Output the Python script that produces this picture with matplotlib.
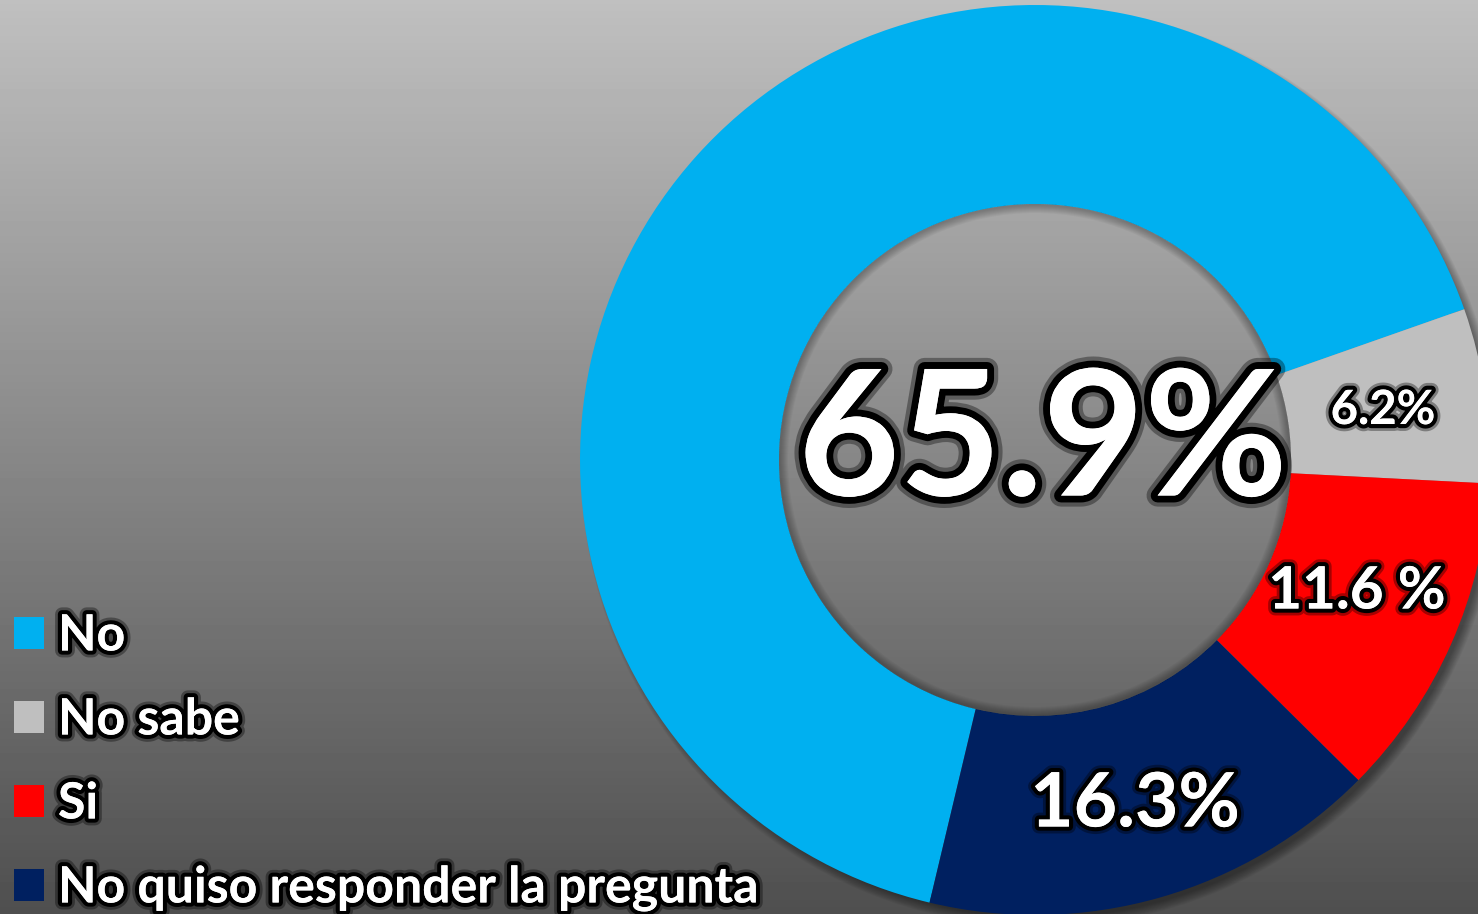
import numpy as np
import matplotlib
matplotlib.use("Agg")
from matplotlib import pyplot as plt
from matplotlib import patheffects as pe
from matplotlib.patches import Wedge

# data
labels = ["No", "No sabe", "Si", "No quiso responder la pregunta"]
values = [65.9, 6.2, 11.6, 16.3]
value_texts = ["65.9%", "6.2%", "11.6 %", "16.3%"]
colors = ["#00B0F0", "#BFBFBF", "#FF0000", "#002060"]

W, H = 1478, 914
plt.rcParams["font.family"] = ["Lato", "DejaVu Sans"]

fig = plt.figure(figsize=(W / 100, H / 100), dpi=100)
ax = fig.add_axes([0, 0, 1, 1])

# grey vertical gradient background
grad = np.linspace(0.31, 0.75, 256).reshape(-1, 1)
ax.imshow(grad, extent=[0, W, 0, H], origin="lower", cmap="gray", vmin=0, vmax=1,
          aspect="auto", zorder=0)

cx, cy = 1035, 454
r_out, r_in = 455, 256

# soft outer shadow, lower right only
for i in range(10):
    ax.add_patch(Wedge((cx + 6, cy - 7), r_out + 5 - i, 0, 360, width=14,
                       color="black", alpha=0.045, lw=0, zorder=1))

wedges, _ = ax.pie(values, colors=colors, startangle=256.6, counterclock=False,
                   center=(cx, cy), radius=r_out, frame=True,
                   wedgeprops=dict(width=r_out - r_in, linewidth=0))
for w in wedges:
    w.set_zorder(2)
ax.set_xlim(0, W)
ax.set_ylim(0, H)
ax.set_aspect("equal")
ax.axis("off")

# inner shadow around the hole
for i in range(8):
    ax.add_patch(Wedge((cx, cy), r_in, 0, 360, width=9 - i, color="black",
                       alpha=0.035, lw=0, zorder=3))

glow = [pe.withStroke(linewidth=16, foreground="black", alpha=0.35),
        pe.withStroke(linewidth=10, foreground="black"), pe.Normal()]
small_glow = [pe.withStroke(linewidth=10, foreground="black", alpha=0.35),
              pe.withStroke(linewidth=6, foreground="black"), pe.Normal()]

ax.text(1043, H - 445, value_texts[0], color="white", fontsize=126, fontweight="bold",
        ha="center", va="center", path_effects=glow, zorder=5)
ax.text(1383, H - 410, value_texts[1], color="white", fontsize=34, fontweight="bold",
        ha="center", va="center", path_effects=small_glow, zorder=5)
ax.text(1357, H - 592, value_texts[2], color="white", fontsize=42, fontweight="bold",
        ha="center", va="center", path_effects=small_glow, zorder=5)
ax.text(1135, H - 805, value_texts[3], color="white", fontsize=54, fontweight="bold",
        ha="center", va="center", path_effects=small_glow, zorder=5)

leg = ax.legend(wedges, labels, loc="lower left", bbox_to_anchor=(0.0, -0.012),
                frameon=False, fontsize=36, labelcolor="white", handlelength=0.6,
                handleheight=0.6, handletextpad=0.28, labelspacing=0.78,
                borderaxespad=0, borderpad=0.28)
for t in leg.get_texts():
    t.set_fontweight("bold")
    t.set_path_effects(small_glow)

fig.savefig("out.png", dpi=100)
